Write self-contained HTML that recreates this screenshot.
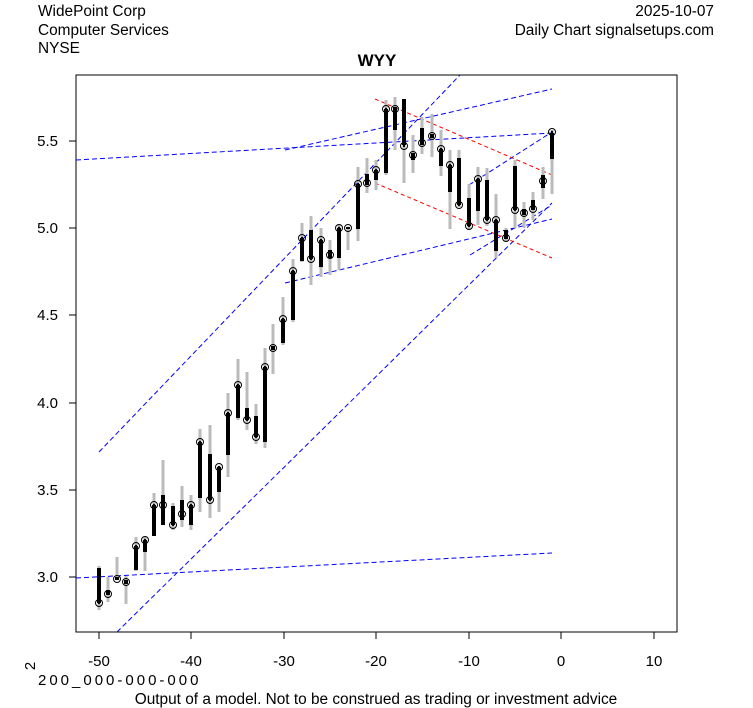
<!DOCTYPE html><html><head><style>body{margin:0;background:#fff}svg{display:block;font-family:"Liberation Sans",sans-serif}</style></head><body>
<svg id="s" width="753" height="708" xmlns="http://www.w3.org/2000/svg">
<rect width="753" height="708" fill="#fff"/>
<text x="38" y="16" font-size="15.4">WidePoint Corp</text>
<text x="38" y="35" font-size="15.4">Computer Services</text>
<text x="38" y="53" font-size="15.4">NYSE</text>
<text x="714" y="16" font-size="15.4" text-anchor="end">2025-10-07</text>
<text x="714" y="35" font-size="15.4" text-anchor="end">Daily Chart signalsetups.com</text>
<text x="377" y="66" font-size="17" font-weight="bold" text-anchor="middle">WYY</text>
<rect x="76" y="75" width="601" height="557" fill="none" stroke="#000"/>
<g font-size="15" text-anchor="middle">
<text x="99" y="666">-50</text><text x="191" y="666">-40</text><text x="284" y="666">-30</text><text x="376" y="666">-20</text><text x="469" y="666">-10</text><text x="561" y="666">0</text><text x="654" y="666">10</text>
</g>
<g stroke="#000"><line x1="99" y1="632" x2="99" y2="639"/><line x1="191" y1="632" x2="191" y2="639"/><line x1="284" y1="632" x2="284" y2="639"/><line x1="376" y1="632" x2="376" y2="639"/><line x1="469" y1="632" x2="469" y2="639"/><line x1="561" y1="632" x2="561" y2="639"/><line x1="654" y1="632" x2="654" y2="639"/>
<line x1="69" y1="577" x2="76" y2="577"/><line x1="69" y1="490" x2="76" y2="490"/><line x1="69" y1="403" x2="76" y2="403"/><line x1="69" y1="315" x2="76" y2="315"/><line x1="69" y1="228" x2="76" y2="228"/><line x1="69" y1="141" x2="76" y2="141"/></g>
<g font-size="15" text-anchor="end"><text x="58" y="582">3.0</text><text x="58" y="495">3.5</text><text x="58" y="408">4.0</text><text x="58" y="320">4.5</text><text x="58" y="233">5.0</text><text x="58" y="146">5.5</text></g>
<text x="36" y="666" font-size="15" transform="rotate(-90 36 666)" text-anchor="middle" dy="-1">2</text>
<text x="38" y="685" font-size="15" letter-spacing="3">200_000-000-000</text>
<text x="376" y="704" font-size="15.4" text-anchor="middle">Output of a model. Not to be construed as trading or investment advice</text>
<g fill="none" stroke="#00f" stroke-dasharray="5,3" stroke-width="1">
<line x1="76" y1="160" x2="552" y2="133"/>
<line x1="285" y1="150" x2="552" y2="89"/>
<line x1="99" y1="452" x2="460" y2="75"/>
<line x1="117" y1="632" x2="552" y2="203"/>
<line x1="76" y1="578" x2="552" y2="553"/>
<line x1="285" y1="283" x2="552" y2="219"/>
<line x1="469" y1="185" x2="552" y2="132"/>
<line x1="470" y1="255" x2="552" y2="205"/>
</g>
<g stroke="#f00" stroke-dasharray="4,3"><line x1="375" y1="99" x2="552" y2="175"/><line x1="375" y1="183" x2="552" y2="258"/></g>
<g id="c"></g>
</svg>
<script>
var d=[[99,566,610,568,603,603],[108,577,602,590,595,594],[117,557,580,577,580,579],[126,576,604,580,584,582],[136,537,571,546,570,546],[145,537,571,540,552,540],[154,493,536,505,536,505],[163,460,525,495,525,505],[173,503,530,506,525,525],[182,486,527,500,520,514],[191,495,530,505,525,505],[200,429,512,442,498,442],[210,425,518,454,500,500],[219,466,512,467,492,467],[228,393,477,413,455,413],[238,359,420,385,418,385],[247,372,430,408,420,420],[256,404,444,416,437,437],[265,348,448,367,442,367],[273,324,374,346,350,348],[283,297,345,319,343,319],[293,259,322,271,320,271],[302,223,262,238,261,238],[311,216,285,230,259,259],[321,228,277,240,267,240],[330,240,275,250,258,255],[339,225,270,228,258,228],[348,228,250,227,229,228],[358,167,241,184,229,184],[367,158,193,174,185,183],[376,160,190,170,180,170],[386,100,175,109,173,109],[395,97,150,107,130,109],[404,99,183,99,145,146],[413,135,173,153,160,155],[422,117,154,128,145,143],[432,114,157,134,138,136],[441,130,176,149,166,149],[450,150,229,165,192,165],[459,150,207,158,205,205],[469,184,230,198,226,226],[478,167,225,179,211,179],[487,168,226,180,220,220],[496,194,258,220,251,220],[506,228,241,230,239,238],[515,160,228,166,210,210],[524,202,228,209,215,213],[533,192,220,200,210,209],[543,167,199,175,188,181],[552,130,194,133,159,132]];
var h='';d.forEach(function(a){h+='<line x1="'+a[0]+'" y1="'+a[1]+'" x2="'+a[0]+'" y2="'+a[2]+'" stroke="#bbb" stroke-width="3"/>';h+='<line x1="'+a[0]+'" y1="'+a[3]+'" x2="'+a[0]+'" y2="'+a[4]+'" stroke="#000" stroke-width="4"/>';h+='<circle cx="'+a[0]+'" cy="'+a[5]+'" r="3.5" fill="none" stroke="#000"/><circle cx="'+a[0]+'" cy="'+a[5]+'" r="1.2" fill="#000"/>';});
document.getElementById('c').innerHTML=h;
</script>
</body></html>
